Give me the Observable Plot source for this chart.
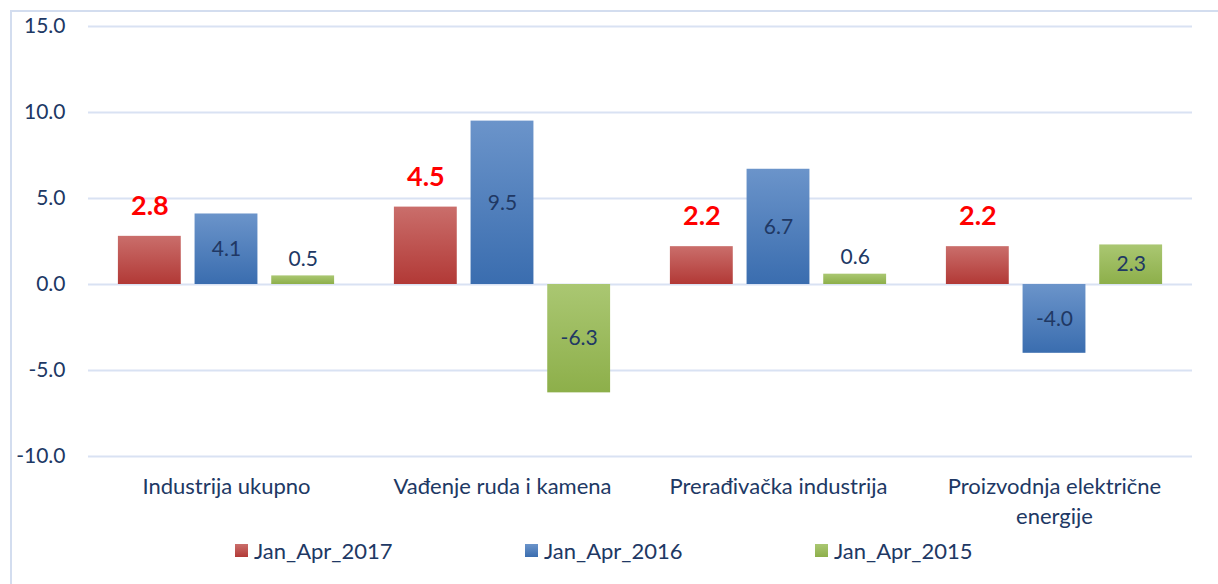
<!DOCTYPE html>
<html>
<head>
<meta charset="utf-8">
<script src="https://cdn.jsdelivr.net/npm/d3@7"></script>
<script src="https://cdn.jsdelivr.net/npm/@observablehq/plot@0.6"></script>
<style>
  html, body { margin: 0; padding: 0; background: #fff; width: 1218px; height: 584px; overflow: hidden; }
  #frame { position: absolute; left: 10px; top: 10px; width: 1230px; height: 600px; border: 2px solid #d3ddef; box-sizing: border-box; }
  #chart { position: absolute; left: 0; top: 0; }
  #legend { position: absolute; top: 535px; left: 0; width: 1218px; height: 30px; font-family: Lato, "Open Sans", sans-serif; font-size: 22px; color: #203864; }
  .item { position: absolute; top: 0; display: flex; align-items: center; height: 30px; }
  .sw { width: 13px; height: 13px; margin-right: 6px; }
</style>
</head>
<body>
<div id="frame"></div>
<div id="chart"></div>
<div id="legend"></div>
<script>
const categories = ["Industrija ukupno", "Vađenje ruda i kamena", "Prerađivačka industrija", "Proizvodnja električne energije"];
const series = ["Jan_Apr_2017", "Jan_Apr_2016", "Jan_Apr_2015"];
const v2017 = [2.8, 4.5, 2.2, 2.2];
const v2016 = [4.1, 9.5, 6.7, -4.0];
const v2015 = [0.5, -6.3, 0.6, 2.3];
const yTicks = [-10, -5, 0, 5, 10, 15];

const seriesValues = [v2017, v2016, v2015];
const gradients = [
  ["gRed", "#ca6e6b", "#b23936"],
  ["gBlue", "#6b94ca", "#3a6daf"],
  ["gGreen", "#aac772", "#8daf4a"]
];

const data = [];
categories.forEach((c, i) => {
  series.forEach((s, j) => {
    data.push({category: c, series: s, value: seriesValues[j][i], si: j});
  });
});

const navy = "#203864";
const fmt = d => d.toFixed(1);

const plot = Plot.plot({
  width: 1218,
  height: 584,
  marginTop: 26,
  marginBottom: 128,
  marginLeft: 86,
  marginRight: 25,
  style: {fontFamily: "Lato, 'Open Sans', sans-serif", fontSize: "22px", color: navy, background: "transparent"},
  fx: {domain: categories, padding: 0, label: null},
  x: {domain: series, paddingInner: 0.18, paddingOuter: 0.39, axis: null, round: false},
  y: {domain: [-10, 15], axis: null},
  color: {domain: series, range: gradients.map(g => `url(#${g[0]})`)},
  marks: [
    Plot.ruleY(yTicks, {stroke: "#d9e2f3", strokeWidth: 2}),
    Plot.axisY({ticks: yTicks, tickFormat: fmt, tickSize: 0, tickPadding: 23, fontSize: 21, label: null}),
    Plot.axisFx({anchor: "bottom", tickSize: 0, tickPadding: 17, lineWidth: 12, lineHeight: 1.33, fontSize: 22, label: null}),
    Plot.barY(data, {fx: "category", x: "series", y: "value", fill: "series"}),
    Plot.text(data.filter(d => d.si === 0), {
      fx: "category", x: "series", y: "value", text: d => fmt(d.value),
      dy: -30, fill: "#ff0000", fontWeight: "bold", fontSize: 27, lineAnchor: "middle"
    }),
    Plot.text(data.filter(d => d.si !== 0 && Math.abs(d.value) > 1), {
      fx: "category", x: "series", y: d => d.value / 2,
      text: d => fmt(d.value), fill: navy, fontSize: 21, lineAnchor: "middle"
    }),
    Plot.text(data.filter(d => d.si !== 0 && Math.abs(d.value) <= 1), {
      fx: "category", x: "series", y: "value", dy: -17,
      text: d => fmt(d.value), fill: navy, fontSize: 21, lineAnchor: "middle"
    })
  ]
});

const defs = d3.select(plot).insert("defs", ":first-child");
gradients.forEach(([id, top, bottom]) => {
  const g = defs.append("linearGradient").attr("id", id).attr("x1", 0).attr("y1", 0).attr("x2", 0).attr("y2", 1);
  g.append("stop").attr("offset", "0%").attr("stop-color", top);
  g.append("stop").attr("offset", "100%").attr("stop-color", bottom);
});
document.getElementById("chart").appendChild(plot);

// legend
const legendLeft = [235, 525, 815];
const legend = document.getElementById("legend");
series.forEach((s, j) => {
  const item = document.createElement("div");
  item.className = "item";
  item.style.left = legendLeft[j] + "px";
  const sw = document.createElement("div");
  sw.className = "sw";
  sw.style.background = `linear-gradient(${gradients[j][1]}, ${gradients[j][2]})`;
  const label = document.createElement("span");
  label.textContent = s;
  item.appendChild(sw);
  item.appendChild(label);
  legend.appendChild(item);
});
</script>
</body>
</html>
